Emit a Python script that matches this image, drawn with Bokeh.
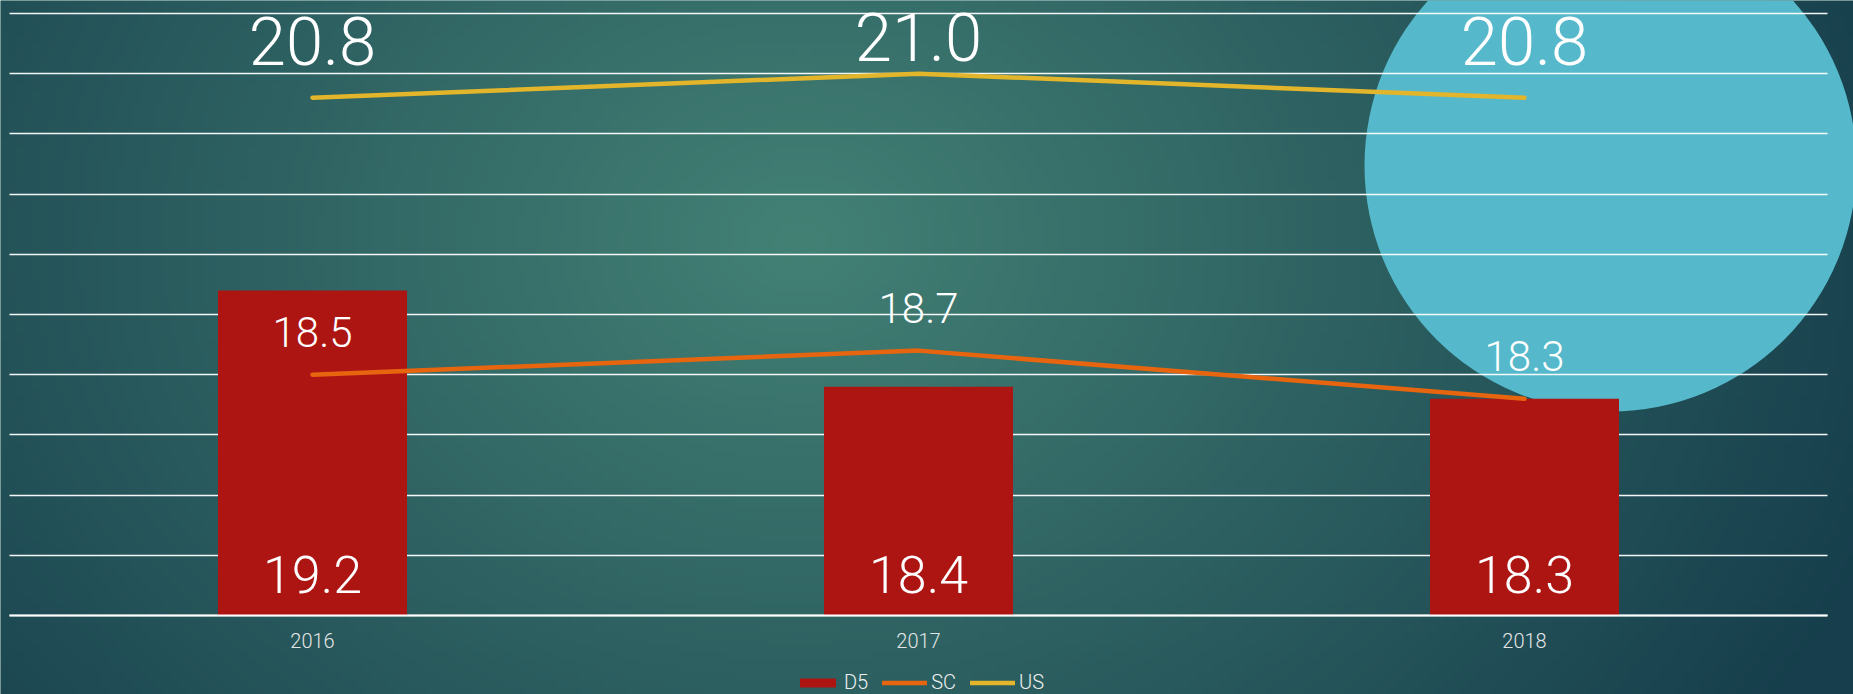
import numpy as np
from bokeh.plotting import figure
from bokeh.models import Range1d, FixedTicker, Legend, LegendItem, ColumnDataSource
from bokeh.core.properties import value
from bokeh.embed import file_html
from bokeh.resources import INLINE

# ---- data ----
categories = ["2016", "2017", "2018"]
d5 = [19.2, 18.4, 18.3]
sc = [18.5, 18.7, 18.3]
us = [20.8, 21.0, 20.8]
y_ticks = [16.5, 17.0, 17.5, 18.0, 18.5, 19.0, 19.5, 20.0, 20.5, 21.0, 21.5]

# ---- layout constants ----
W, H = 1853, 694
BASE_PX = 615             # screen y of the value axis minimum
PX_PER_Y = 120.4          # pixels per y unit
PX_PER_X = 606.0          # pixels per category
Y0 = 16.5
Y_START = Y0 - (H - BASE_PX) / PX_PER_Y
Y_END = Y0 + BASE_PX / PX_PER_Y
X_START = -312.0 / PX_PER_X
X_END = X_START + W / PX_PER_X
FONT = value("Roboto Light")
SHIFT = 0.40              # em shift compensating text baseline placement

xs = list(range(len(categories)))

p = figure(width=W, height=H,
           x_range=Range1d(X_START, X_END), y_range=Range1d(Y_START, Y_END),
           output_backend="svg", toolbar_location=None, min_border=0,
           y_axis_location=None, border_fill_color="#286060",
           outline_line_color=None, background_fill_color="#2f6a68")

# ---- background gradient (decoration) ----
nx, ny = 240, 100
ii = (np.arange(nx) + 0.5) / nx * W
jj = H - (np.arange(ny) + 0.5) / ny * H
PX, PY = np.meshgrid(ii, jj)
d = np.sqrt(((PX - 800) / 1150.0) ** 2 + ((PY - 240) / 900.0) ** 2)
d = np.clip(d, 0, 1)
c0 = np.array([67, 129, 117]); c1 = np.array([22, 62, 76])
img = np.empty((ny, nx), dtype=np.uint32)
view = img.view(dtype=np.uint8).reshape((ny, nx, 4))
for k in range(3):
    view[:, :, k] = (c0[k] + (c1[k] - c0[k]) * d).astype(np.uint8)
view[:, :, 3] = 255
p.image_rgba(image=[img], x=X_START, y=Y_START, dw=X_END - X_START,
             dh=Y_END - Y_START, level="image")

# decorative circle
cx = (1610 - 312) / PX_PER_X
cy = Y0 + (BASE_PX - 165) / PX_PER_Y
p.scatter(x=[cx], y=[cy], size=492, marker="circle", fill_color="#55b9cb",
          line_color=None, level="image")

# ---- grid / axes ----
p.ygrid.ticker = FixedTicker(ticks=y_ticks)
p.ygrid.grid_line_color = "white"
p.ygrid.grid_line_width = 1.4
p.ygrid.grid_line_alpha = 0.95
p.ygrid.cross_bounds = (-0.5, 2.5)
p.xgrid.visible = False

xa = p.xaxis[0]
xa.fixed_location = Y0
xa.ticker = FixedTicker(ticks=xs)
xa.major_label_overrides = {i: c for i, c in enumerate(categories)}
xa.bounds = (-0.5, 2.5)
xa.axis_line_color = "white"
xa.axis_line_width = 2
xa.major_tick_line_color = None
xa.major_tick_out = 0
xa.major_tick_in = 0
xa.minor_tick_line_color = None
xa.major_label_standoff = 17
xa.major_label_text_font = "Roboto Light"
xa.major_label_text_font_size = "20px"
xa.major_label_text_color = "#e4e4e4"

# ---- label positions (screen px converted to data units) ----
F_BAR, F_SC, F_US = 52, 42, 67
bar_lab_y = [Y0 + (20 + SHIFT * F_BAR) / PX_PER_Y for _ in d5]
sc_lab_y = [v + (26 + SHIFT * F_SC) / PX_PER_Y for v in sc]
us_top = Y0 + 552 / PX_PER_Y
us_lab_y = [min(v + 30 / PX_PER_Y, us_top) + SHIFT * F_US / PX_PER_Y for v in us]

src = ColumnDataSource(dict(x=xs, d5=d5, sc=sc, us=us,
                            d5_lab=[f"{v:.1f}" for v in d5],
                            sc_lab=[f"{v:.1f}" for v in sc],
                            us_lab=[f"{v:.1f}" for v in us],
                            bar_y=bar_lab_y, sc_y=sc_lab_y, us_y=us_lab_y))

r_bar = p.vbar(x="x", top="d5", bottom=Y0, width=189 / PX_PER_X, source=src,
               fill_color="#ad1513", line_color=None)
r_sc = p.line(x="x", y="sc", source=src, line_color="#e8650f", line_width=4.5,
              line_cap="round", line_join="round")
r_us = p.line(x="x", y="us", source=src, line_color="#e2b52a", line_width=4.5,
              line_cap="round", line_join="round")

p.text(x="x", y="bar_y", text="d5_lab", source=src,
       text_align="center", text_baseline="alphabetic", text_color="white",
       text_font=FONT, text_font_size=f"{F_BAR}px")
p.text(x="x", y="sc_y", text="sc_lab", source=src,
       text_align="center", text_baseline="alphabetic", text_color="white",
       text_font=FONT, text_font_size=f"{F_SC}px")
p.text(x="x", y="us_y", text="us_lab", source=src,
       text_align="center", text_baseline="alphabetic", text_color="white",
       text_font=FONT, text_font_size=f"{F_US}px")

legend = Legend(items=[LegendItem(label="D5", renderers=[r_bar]),
                       LegendItem(label="SC", renderers=[r_sc]),
                       LegendItem(label="US", renderers=[r_us])],
                orientation="horizontal", location=(795, 0),
                background_fill_alpha=0, border_line_alpha=0,
                label_text_color="#f0f0f0", label_text_font="Roboto Light",
                label_text_font_size="20px", glyph_width=45, glyph_height=11,
                label_standoff=4, spacing=14, padding=0, margin=0)
p.add_layout(legend)

open("out.html", "w").write(file_html(p, INLINE))
